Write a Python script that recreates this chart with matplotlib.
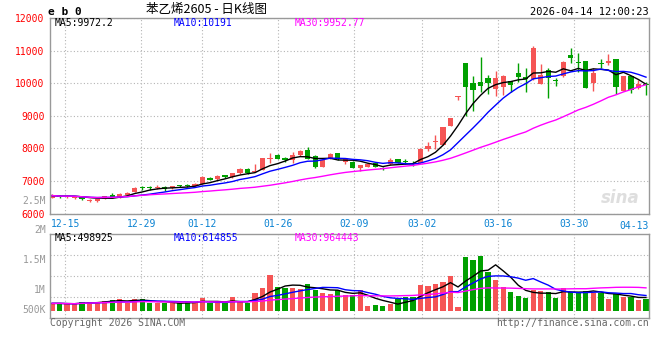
import numpy as np
import pandas as pd
import matplotlib
matplotlib.use("Agg")
import matplotlib.pyplot as plt

# daily bars, EB0 styrene main contract
dates = ["12-11", "12-12", "12-15", "12-16", "12-17", "12-18", "12-19", "12-22", "12-23", "12-24",
         "12-25", "12-26", "12-29", "12-30", "12-31", "01-05", "01-06", "01-07", "01-08", "01-09",
         "01-12", "01-13", "01-14", "01-15", "01-16", "01-19", "01-20", "01-21", "01-22", "01-23",
         "01-26", "01-27", "01-28", "01-29", "01-30", "02-02", "02-03", "02-04", "02-05", "02-06",
         "02-09", "02-10", "02-11", "02-12", "02-13", "02-24", "02-25", "02-26", "02-27", "03-02",
         "03-03", "03-04", "03-05", "03-06", "03-09", "03-10", "03-11", "03-12", "03-13", "03-16",
         "03-17", "03-18", "03-19", "03-20", "03-23", "03-24", "03-25", "03-26", "03-27", "03-30",
         "03-31", "04-01", "04-02", "04-03", "04-07", "04-08", "04-09", "04-10", "04-13", "04-14"]

opens = [6490, 6540, 6500, 6490, 6520, 6390, 6395, 6450, 6580, 6500,
         6580, 6660, 6780, 6800, 6770, 6820, 6770, 6850, 6870, 6830,
         6900, 7100, 7050, 7170, 7120, 7230, 7380, 7290, 7350, 7690,
         7790, 7710, 7640, 7800, 7950, 7770, 7440, 7690, 7850, 7590,
         7590, 7410, 7440, 7540, 7410, 7510, 7660, 7600, 7560, 7560,
         7990, 8200, 8120, 8700, 9590, 10640, 10000, 10050, 10170, 9830,
         9900, 10070, 10320, 10200, 10120, 9980, 10400, 10080, 10220, 10860,
         10640, 10680, 10020, 10620, 10630, 10740, 9780, 10220, 9850, 9990]
highs = [6600, 6570, 6560, 6550, 6535, 6450, 6445, 6540, 6640, 6620,
         6670, 6800, 6850, 6860, 6880, 6840, 6840, 6890, 6910, 6930,
         7150, 7110, 7190, 7190, 7260, 7390, 7390, 7520, 7720, 7850,
         7830, 7740, 7880, 7940, 8050, 7790, 7650, 7850, 7870, 7720,
         7610, 7500, 7540, 7560, 7430, 7700, 7690, 7670, 7610, 8010,
         8190, 8400, 8670, 8940, 9620, 10640, 10220, 10800, 10250, 10380,
         10270, 10080, 10640, 10460, 11150, 10580, 10460, 10170, 10690, 11100,
         10940, 10680, 10460, 10740, 10890, 10740, 10230, 10230, 10100, 10050]
lows = [6470, 6490, 6470, 6460, 6410, 6360, 6360, 6440, 6490, 6490,
        6570, 6650, 6720, 6730, 6750, 6700, 6760, 6800, 6810, 6820,
        6880, 7020, 7040, 7100, 7100, 7220, 7220, 7270, 7340, 7550,
        7660, 7580, 7560, 7780, 7680, 7400, 7430, 7680, 7650, 7530,
        7400, 7320, 7420, 7420, 7340, 7500, 7540, 7520, 7460, 7540,
        7920, 7970, 8100, 8680, 9490, 8990, 9140, 9750, 9670, 9620,
        9640, 9730, 10030, 9750, 10100, 9980, 9560, 9930, 10200, 10630,
        10350, 9850, 9780, 10460, 10560, 9680, 9780, 9700, 9830, 9640]
closes = [6550, 6520, 6530, 6525, 6440, 6430, 6435, 6530, 6500, 6610,
          6640, 6790, 6770, 6790, 6790, 6760, 6830, 6840, 6850, 6910,
          7110, 7030, 7150, 7120, 7230, 7380, 7230, 7320, 7710, 7720,
          7680, 7630, 7790, 7920, 7690, 7420, 7640, 7820, 7660, 7660,
          7410, 7490, 7510, 7440, 7360, 7640, 7560, 7590, 7510, 7990,
          8090, 8230, 8660, 8930, 9610, 9900, 9800, 9930, 10000, 10170,
          10220, 9950, 10200, 10130, 11090, 10250, 10170, 10070, 10660, 10780,
          10620, 9850, 10320, 10580, 10680, 9900, 10220, 9800, 9990, 9951]
volumes = [331000, 331000, 301000, 301000, 407000, 407000, 407000, 452000, 482000, 527000,
           331000, 527000, 527000, 362000, 331000, 331000, 331000, 331000, 437000, 407000,
           588000, 331000, 331000, 331000, 618000, 437000, 331000, 814000, 1024000, 1612000,
           1085000, 1040000, 1024000, 979000, 1205000, 934000, 814000, 753000, 934000, 708000,
           708000, 934000, 211000, 256000, 211000, 301000, 512000, 633000, 633000, 1160000,
           1115000, 1205000, 1296000, 1567000, 181000, 2440000, 2290000, 2490000, 1760000, 1386000,
           1085000, 859000, 678000, 588000, 934000, 904000, 859000, 588000, 1024000, 859000,
           859000, 904000, 814000, 783000, 527000, 753000, 633000, 603000, 482000, 512000]

grid_dates = ["12-15", "12-29", "01-12", "01-26", "02-09", "03-02", "03-16", "03-30"]
price_ticks = [6000, 7000, 8000, 9000, 10000, 11000, 12000]
vol_labels = ["2.5M", "2M", "1.5M", "1M", "500K"]
price_ma_text = ["MA5:9972.2", "MA10:10191", "MA30:9952.77"]
vol_ma_text = ["MA5:498925", "MA10:614855", "MA30:964443"]

RED = "#f55555"
GREEN = "#00a000"
BLUE_TXT = "#0a82d2"
GRID = "#b4b4b4"
FRAME = "#999999"
MA_COLORS = ["black", "#0000ff", "#ff00ff"]

plt.rcParams["font.family"] = ["DejaVu Sans Mono"]

W, H = 660, 360


def box(l, t, r, b):
    return [l / W, 1 - b / H, (r - l) / W, (b - t) / H]


fig = plt.figure(figsize=(6.6, 3.6), dpi=100)
axp = fig.add_axes(box(50, 18.3, 649, 213.5))
axv = fig.add_axes(box(50, 234.3, 649, 318))

x = np.arange(len(dates))
o = np.array(opens, dtype=float)
c = np.array(closes, dtype=float)
colors = np.where(c >= o, RED, GREEN)

# grid lines drift slightly from candle centres in the original
gx = [dates.index(d) * 1.0104 - 0.25 for d in grid_dates]

for ax in (axp, axv):
    ax.set_xlim(-0.27, 79.4)
    ax.set_xticks(gx)
    ax.grid(True, color=GRID, linestyle=(0, (1, 2)), linewidth=0.8)
    ax.set_axisbelow(True)
    for s in ax.spines.values():
        s.set_color(FRAME)
        s.set_linewidth(1)
    ax.tick_params(length=0)

# price panel
axp.vlines(x, lows, highs, colors=colors, linewidth=1)
body_low = np.minimum(o, c)
body_h = np.maximum(np.abs(c - o), 30)
axp.bar(x, body_h, bottom=body_low, width=0.7, color=colors, linewidth=0)

cs = pd.Series(c)
for n, col in zip([5, 10, 30], MA_COLORS):
    axp.plot(x, cs.rolling(n, min_periods=1).mean(), color=col, linewidth=1)

axp.set_ylim(6000, 12000)
axp.set_yticks(price_ticks)
axp.tick_params(axis="y", pad=4, labelcolor="red", labelsize=7)
axp.set_xticklabels(grid_dates)
axp.tick_params(axis="x", pad=4, labelcolor=BLUE_TXT, labelsize=7)
axp.text(1.0, -0.04, "04-13", transform=axp.transAxes, ha="right", va="top",
         color=BLUE_TXT, fontsize=7)

for txt, col, px in zip(price_ma_text, MA_COLORS, [55, 174, 295]):
    fig.text(px / W, 1 - 23 / H, txt, color=col, fontsize=7, va="center")

axp.text(0.985, 0.08, "sina", transform=axp.transAxes, ha="right", va="center",
         color="#dedede", fontsize=12, fontweight="bold", style="italic",
         family="DejaVu Sans")

# volume panel
axv.bar(x, volumes, width=0.7, color=colors, linewidth=0)
vs = pd.Series(np.array(volumes, dtype=float))
for n, col in zip([5, 10, 30], MA_COLORS):
    axv.plot(x, vs.rolling(n, min_periods=1).mean(), color=col, linewidth=1)

vlo, vhi = -330000, 3453000
axv.set_ylim(vlo, vhi)
axv.set_yticks(np.linspace(vlo, vhi, 5)[1:4])
axv.set_yticklabels([])
axv.set_xticklabels([])

for txt, py in zip(vol_labels, [201, 230, 260, 290, 310]):
    fig.text(46 / W, 1 - py / H, txt, color="#999999", fontsize=7, ha="right", va="center")

for txt, col, px in zip(vol_ma_text, MA_COLORS, [55, 174, 295]):
    fig.text(px / W, 1 - 238 / H, txt, color=col, fontsize=7, va="center")

# header / footer
fig.text(48 / W, 1 - 12 / H, "e b 0", fontsize=8, fontweight="bold", va="center")
fig.text(206 / W, 1 - 10 / H, "苯乙烯2605 - 日K线图", fontsize=9, ha="center", va="center",
         family=["Noto Sans CJK SC", "DejaVu Sans"])
fig.text(649 / W, 1 - 12 / H, "2026-04-14 12:00:23", fontsize=7.5, ha="right", va="center")
fig.text(50 / W, 1 - 323 / H, "Copyright 2026 SINA.COM", fontsize=7, color="#666666", va="center")
fig.text(649 / W, 1 - 323 / H, "http://finance.sina.com.cn", fontsize=7, color="#666666",
         ha="right", va="center")

fig.savefig("out.png", dpi=100)
